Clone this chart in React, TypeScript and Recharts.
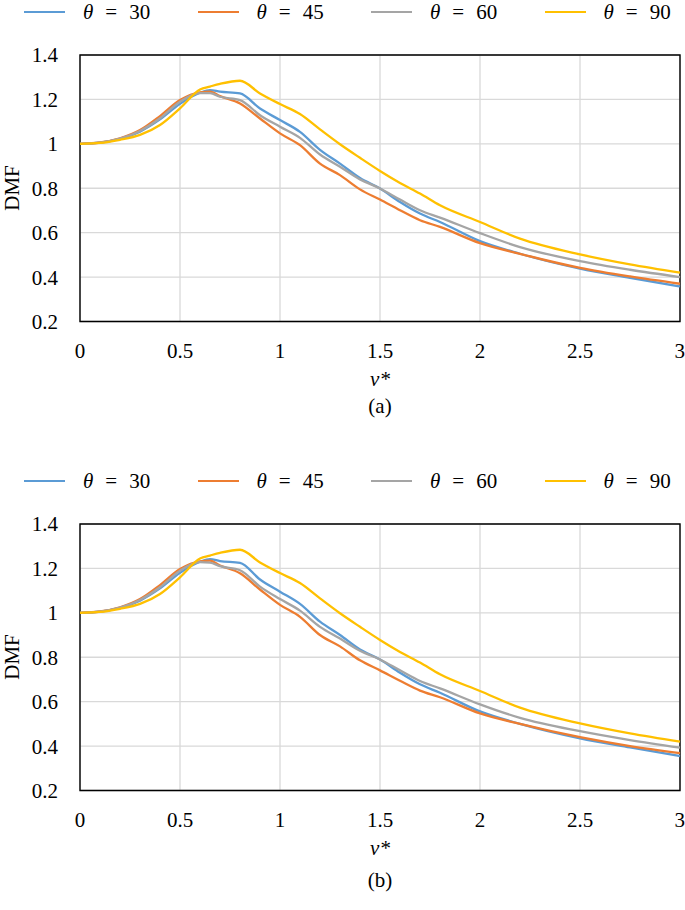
import React from "react";
import { LineChart, Line, XAxis, YAxis, CartesianGrid, ReferenceArea } from "recharts";

// v* sample points (shared by both panels)
const vStar = [0, 0.1, 0.2, 0.3, 0.4, 0.5, 0.6, 0.65, 0.7, 0.8, 0.9, 1.0, 1.1, 1.2, 1.3, 1.4, 1.5, 1.6, 1.7, 1.8, 2.0, 2.2, 2.5, 2.75, 3.0];

// panel (a)
const dmfA30 = [1, 1.005, 1.022, 1.055, 1.11, 1.18, 1.23, 1.242, 1.235, 1.227, 1.159, 1.107, 1.054, 0.973, 0.911, 0.846, 0.799, 0.738, 0.686, 0.648, 0.562, 0.505, 0.438, 0.397, 0.358];
const dmfA45 = [1, 1.006, 1.025, 1.062, 1.125, 1.197, 1.232, 1.235, 1.215, 1.182, 1.114, 1.047, 0.994, 0.911, 0.859, 0.795, 0.749, 0.701, 0.656, 0.626, 0.553, 0.505, 0.442, 0.403, 0.37];
const dmfA60 = [1, 1.005, 1.023, 1.058, 1.115, 1.19, 1.228, 1.228, 1.212, 1.197, 1.129, 1.077, 1.027, 0.952, 0.897, 0.84, 0.799, 0.749, 0.701, 0.668, 0.598, 0.535, 0.472, 0.433, 0.4];
const dmfA90 = [1, 1.004, 1.018, 1.04, 1.085, 1.16, 1.245, 1.258, 1.27, 1.284, 1.227, 1.179, 1.134, 1.065, 0.998, 0.937, 0.878, 0.824, 0.776, 0.723, 0.648, 0.573, 0.502, 0.457, 0.42];

// panel (b)
const dmfB30 = [1, 1.005, 1.022, 1.055, 1.11, 1.18, 1.23, 1.242, 1.233, 1.225, 1.15, 1.095, 1.04, 0.96, 0.9, 0.835, 0.79, 0.73, 0.678, 0.64, 0.556, 0.5, 0.435, 0.394, 0.355];
const dmfB45 = [1, 1.006, 1.025, 1.062, 1.125, 1.197, 1.232, 1.235, 1.213, 1.178, 1.105, 1.036, 0.982, 0.9, 0.849, 0.786, 0.741, 0.694, 0.65, 0.62, 0.547, 0.5, 0.44, 0.4, 0.368];
const dmfB60 = [1, 1.005, 1.023, 1.058, 1.115, 1.19, 1.228, 1.226, 1.21, 1.192, 1.118, 1.062, 1.01, 0.937, 0.884, 0.829, 0.79, 0.741, 0.693, 0.66, 0.588, 0.527, 0.467, 0.427, 0.393];
const dmfB90 = [1, 1.004, 1.018, 1.04, 1.085, 1.16, 1.245, 1.258, 1.27, 1.284, 1.227, 1.179, 1.134, 1.065, 0.998, 0.937, 0.878, 0.824, 0.776, 0.723, 0.648, 0.573, 0.502, 0.457, 0.42];

const thetas = ["30", "45", "60", "90"];
const colors = ["#5B9BD5", "#ED7D31", "#A5A5A5", "#FFC000"];
const xTicks = [0, 0.5, 1, 1.5, 2, 2.5, 3];
const yTicks = [0.2, 0.4, 0.6, 0.8, 1, 1.2, 1.4];

const FONT = "'Liberation Serif', 'Times New Roman', serif";

function buildRows(series: number[][]) {
	return vStar.map((v, i) => {
		const row: any = { v };
		series.forEach((s, k) => {
			row["t" + thetas[k]] = s[i];
		});
		return row;
	});
}

const fmt = (v: number) => String(Math.round(v * 10) / 10);

function Legend({ top, left }: { top: number; left: number }) {
	return (
		<div style={{ position: "absolute", top: top - 12, left, height: 24, display: "flex", fontFamily: FONT, fontSize: 21 }}>
			{thetas.map((t, i) => (
				<div key={t} style={{ width: 173.5, display: "flex", alignItems: "center" }}>
					<div style={{ width: 41, height: 2.5, background: colors[i], marginRight: 18 }} />
					<span style={{ lineHeight: "24px", whiteSpace: "nowrap" }}>
						<i>θ</i>
						<span style={{ margin: "0 12px" }}>=</span>
						{t}
					</span>
				</div>
			))}
		</div>
	);
}

function Panel({ top, series, caption, captionTop }: { top: number; series: number[][]; caption: string; captionTop: number }) {
	const data = buildRows(series);
	const plotTop = 55;
	const plotBottom = 321.5;
	return (
		<div style={{ position: "absolute", top, left: 0, width: 685, height: 440 }}>
			<Legend top={12} left={24} />
			<LineChart width={685} height={400} data={data} margin={{ top: plotTop, right: 5, left: 0, bottom: 0 }}>
				<CartesianGrid stroke="#D9D9D9" strokeWidth={1.3} />
				<XAxis
					type="number"
					dataKey="v"
					domain={[0, 3]}
					ticks={xTicks}
					tickFormatter={fmt}
					axisLine={false}
					tickLine={false}
					tickSize={0}
					tickMargin={22}
					height={400 - plotBottom}
					tick={{ fill: "#000", fontSize: 21, fontFamily: FONT }}
				/>
				<YAxis
					type="number"
					domain={[0.2, 1.4]}
					ticks={yTicks}
					tickFormatter={fmt}
					axisLine={false}
					tickLine={false}
					tickSize={0}
					tickMargin={22}
					width={80}
					tick={{ fill: "#000", fontSize: 21, fontFamily: FONT }}
				/>
				{thetas.map((t, i) => (
					<Line
						key={t}
						type="monotone"
						dataKey={"t" + t}
						stroke={colors[i]}
						strokeWidth={2.3}
						dot={false}
						isAnimationActive={false}
					/>
				))}
				<ReferenceArea x1={0} x2={3} y1={0.2} y2={1.4} fill="none" stroke="#000" strokeWidth={1.4} fillOpacity={0} />
			</LineChart>
			{/* axis titles and caption */}
			<div
				style={{
					position: "absolute",
					left: 12,
					top: (plotTop + plotBottom) / 2,
					transform: "translate(-50%, -50%) rotate(-90deg)",
					fontFamily: FONT,
					fontSize: 21,
					whiteSpace: "nowrap",
				}}
			>
				DMF
			</div>
			<div style={{ position: "absolute", left: 80, width: 600, top: plotBottom + 45.5, textAlign: "center", fontFamily: FONT, fontSize: 21, lineHeight: "24px", fontStyle: "italic" }}>
				v*
			</div>
			<div style={{ position: "absolute", left: 80, width: 600, top: captionTop, textAlign: "center", fontFamily: FONT, fontSize: 21, lineHeight: "24px" }}>
				{caption}
			</div>
		</div>
	);
}

export default function App() {
	return (
		<div style={{ position: "absolute", top: 0, left: 0, width: 685, height: 910, background: "#fff", overflow: "hidden" }}>
			<Panel top={0} series={[dmfA30, dmfA45, dmfA60, dmfA90]} caption="(a)" captionTop={393.5} />
			<Panel top={469} series={[dmfB30, dmfB45, dmfB60, dmfB90]} caption="(b)" captionTop={399} />
		</div>
	);
}
